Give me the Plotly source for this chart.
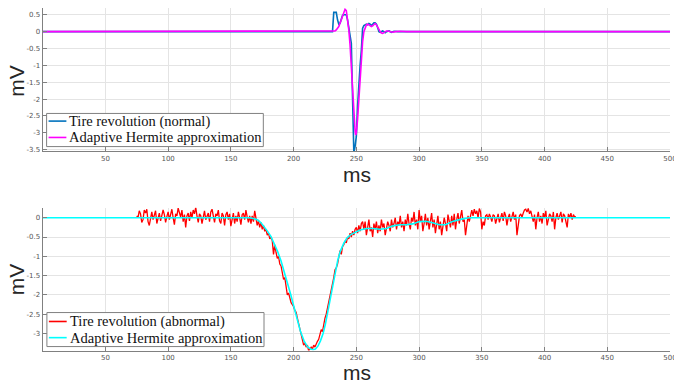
import numpy as np
import plotly.graph_objects as go

# ---------------- data ----------------
# top panel: normal tire revolution (ms, mV)
normal_x = [0, 230, 231, 232, 234, 235, 236, 237, 238, 239, 240, 242, 243, 244, 245, 246, 247, 248,
            249, 250, 251, 252, 253, 254, 255, 256, 257, 258, 259, 260, 261, 262, 263, 264, 265, 266,
            267, 268, 269, 270, 271, 272, 273, 274, 276, 278, 280, 283, 500]
normal_y = [0, 0, 0.0, 0.57, 0.57, 0.35, 0.22, 0.25, 0.35, 0.48, 0.5, 0.5, 0.35, 0.1, -0.15, -0.35, -2.0, -3.6,
            -3.4, -3.1, -2.2, -1.4, -1.0, -0.55, 0.1, 0.18, 0.2, 0.22, 0.2, 0.24, 0.22, 0.18, 0.22, 0.26, 0.26, 0.22,
            0.12, 0.0, -0.02, 0.0, 0.02, 0.0, -0.03, 0.0, 0.02, -0.02, 0.01, 0.0, 0]

approx1_x = [0, 231, 232, 233, 234, 235, 236, 237, 238, 239, 240, 241, 242, 243, 244, 245, 246, 247, 248,
             249, 249.5, 250, 251, 252, 253, 254, 255, 256, 257, 258, 259, 260, 261, 262, 263, 264, 265,
             266, 267, 268, 269, 270, 271, 272, 273, 274, 275, 277, 279, 281, 285, 290, 500]
approx1_y = [0, 0, 0.0, 0.02, 0.05, 0.1, 0.15, 0.25, 0.35, 0.48, 0.6, 0.66, 0.62, 0.4, 0.05, -0.4, -1.1, -1.8, -2.5,
             -2.95, -3.07, -3.0, -2.6, -2.0, -1.35, -0.75, -0.3, 0.0, 0.12, 0.2, 0.22, 0.2, 0.18, 0.15, 0.17, 0.22, 0.24,
             0.2, 0.12, 0.05, 0.0, -0.04, -0.05, -0.03, 0.0, 0.02, 0.02, 0.0, -0.02, 0.0, 0.01, 0, 0]

# bottom panel: abnormal tire revolution, one sample per ms starting at 75 ms
abnormal_start = 75
abnormal_y = [
    0.05, 0.0, 0.18, 0.1, -0.12, -0.05, 0.2, 0.12, 0.22, -0.1,
    -0.2, 0.05, 0.15, -0.05, 0.1, 0.18, -0.15, 0.0, 0.12, -0.08,
    0.05, 0.2, 0.08, -0.12, 0.03, 0.15, -0.05, 0.1, 0.22, 0.0,
    -0.18, 0.1, 0.05, 0.25, 0.15, 0.02, 0.2, -0.1, 0.08, -0.25,
    0.05, 0.12, -0.08, 0.15, 0.0, 0.2, 0.1, 0.27, 0.05, -0.12,
    0.1, 0.05, -0.15, 0.08, 0.18, -0.05, 0.02, 0.12, -0.1, 0.15,
    0.22, 0.0, -0.12, 0.1, 0.05, 0.2, -0.08, -0.15, 0.12, 0.05,
    -0.2, 0.08, 0.15, -0.05, 0.1, -0.22, 0.02, 0.12, -0.15, 0.05,
    -0.1, 0.15, 0.0, -0.18, 0.08, 0.12, -0.05, 0.2, 0.02, -0.12, 0.05,
    -0.15, 0.05, -0.1, 0.18, -0.05, -0.2, -0.08, -0.25, -0.12, -0.3,
    -0.2, -0.35, -0.3, -0.45, -0.4, -0.55, -0.5, -0.6, -0.95, -0.7,
    -0.9, -1.05, -1.0, -1.2, -1.25, -1.45, -1.6, -1.55, -1.85, -2.0,
    -1.95, -2.1, -2.2, -2.25, -2.3, -2.4, -2.45, -2.6, -2.75, -2.85,
    -3.05, -3.2, -3.3, -3.25, -3.35, -3.3, -3.45, -3.4, -3.35, -3.4,
    -3.3, -3.35, -3.25, -3.2, -3.15, -3.05, -2.9, -2.95, -2.75, -2.6,
    -2.5, -2.35, -2.2, -2.05, -1.85, -1.7, -1.55, -1.35, -1.3, -1.2,
    -1.0, -0.85, -0.95, -0.75, -0.7, -0.6, -0.65, -0.5, -0.55, -0.4,
    -0.5, -0.35, -0.45, -0.3, -0.25, -0.4, -0.2, -0.35, -0.15, -0.1,
    -0.3, -0.1, -0.45, -0.2, -0.05, -0.35, -0.25, -0.5, -0.15, -0.3,
    -0.1, -0.4, -0.2, -0.35, -0.05, -0.25, -0.15, -0.45, -0.3, -0.1,
    -0.2, -0.35, -0.05, -0.25, -0.15, 0.0, -0.3, -0.1, -0.2, 0.05,
    -0.25, -0.1, -0.35, -0.05, -0.2, 0.1, -0.15, -0.3, 0.0, -0.1,
    0.15, -0.2, -0.05, -0.3, 0.2, -0.1, 0.05, -0.35, -0.15, 0.1,
    -0.2, 0.0, -0.3, -0.1, 0.12, -0.25, -0.05, -0.4, -0.15, 0.05,
    -0.3, -0.1, -0.45, -0.2, 0.0, -0.15, -0.35, 0.08, -0.1, -0.25,
    0.05, -0.2, 0.1, -0.3, -0.05, 0.12, -0.15, 0.0, 0.2, -0.1,
    -0.05, -0.45, -0.15, 0.05, -0.1, 0.1, 0.2, 0.05, 0.22, 0.1,
    0.18, 0.0, 0.24, 0.15, -0.3, -0.1, -0.2, 0.05, 0.08, -0.05,
    0.1, 0.02, -0.1, 0.08, 0.05, -0.15, -0.05, 0.1, -0.12, 0.0,
    0.12, -0.08, 0.15, 0.05, -0.2, 0.0, 0.1, -0.1, 0.05, 0.15,
    -0.05, 0.08, -0.45, -0.2, 0.05, 0.1, 0.02, 0.12, 0.2, 0.22,
    0.15, 0.24, 0.1, 0.18, 0.05, -0.1, 0.08, -0.3, 0.0, 0.15,
    -0.1, 0.05, -0.15, 0.12, 0.0, 0.18, -0.2, -0.05, 0.1, 0.05,
    -0.1, 0.15, -0.3, 0.0, 0.12, -0.05, 0.08, 0.15, -0.12, 0.1,
    0.05, -0.15, -0.25, 0.1, 0.0, 0.12, -0.05, 0.08, 0.02, 0.03,
]
abnormal_x = list(np.arange(abnormal_start, abnormal_start + len(abnormal_y)))

approx2_x = [0, 165, 168, 171.5, 174, 176.7, 179, 182, 184.5, 187.2, 190, 192.5, 195, 197.7, 200.5, 203,
             205.5, 208.3, 211, 213.5, 215.5, 217.4, 219.5, 221.4, 223.5, 225.3, 227.3, 229.3, 231.3,
             233.2, 235.2, 237.2, 240, 242.4, 245, 247.7, 252.9, 258.2, 263.5, 268.7, 274, 279.3, 284.5,
             289.8, 295, 300.2, 305.5, 310.8, 316, 321, 326.6, 334.5, 340, 500]
approx2_y = [0, 0, -0.02, -0.06, -0.13, -0.23, -0.34, -0.49, -0.66, -0.87, -1.12, -1.39, -1.68, -1.99, -2.34, -2.67,
             -2.95, -3.19, -3.34, -3.40, -3.42, -3.40, -3.32, -3.19, -3.0, -2.76, -2.43, -2.07, -1.72,
             -1.39, -1.1, -0.87, -0.66, -0.53, -0.45, -0.40, -0.32, -0.28, -0.28, -0.3, -0.28, -0.21, -0.18,
             -0.18, -0.16, -0.10, -0.09, -0.13, -0.18, -0.18, -0.1, -0.03, 0, 0]

x_ticks = [50, 100, 150, 200, 250, 300, 350, 400, 450, 500]
y1_ticks = [0.5, 0, -0.5, -1, -1.5, -2, -2.5, -3, -3.5]
y1_labels = ["0.5", "0", "-0.5", "-1", "-1.5", "-2", "-2.5", "-3", "-3.5"]
y2_ticks = [0, -0.5, -1, -1.5, -2, -2.5, -3]
y2_labels = ["0", "-0.5", "-1", "-1.5", "-2", "-2.5", "-3"]

top_names = ["Tire revolution (normal)", "Adaptive Hermite approximation"]
bottom_names = ["Tire revolution (abnormal)", "Adaptive Hermite approximation"]
top_colors = ["#0072BD", "#FF00FF"]
bottom_colors = ["#FF0000", "#00FFFF"]

# ---------------- figure ----------------
# The page body keeps its default 8 px margin, so the figure is laid out 8 px
# smaller; positions below are given in window pixels and converted.
OFF = 8
WIN_W, WIN_H = 682, 384
W, H = WIN_W - OFF, WIN_H - OFF


def px(x):
    return (x - OFF) / W


def py(y):
    return 1 - (y - OFF) / H


fig = go.Figure()

fig.add_trace(go.Scatter(x=normal_x, y=normal_y, mode="lines", name=top_names[0],
                         line=dict(color=top_colors[0], width=1.6), xaxis="x", yaxis="y"))
fig.add_trace(go.Scatter(x=approx1_x, y=approx1_y, mode="lines", name=top_names[1],
                         line=dict(color=top_colors[1], width=1.6), xaxis="x", yaxis="y"))
fig.add_trace(go.Scatter(x=abnormal_x, y=abnormal_y, mode="lines", name=bottom_names[0],
                         line=dict(color=bottom_colors[0], width=1.3), xaxis="x2", yaxis="y2"))
fig.add_trace(go.Scatter(x=approx2_x, y=approx2_y, mode="lines", name=bottom_names[1],
                         line=dict(color=bottom_colors[1], width=1.6), xaxis="x2", yaxis="y2"))

xdom = [px(43), px(677)]
ax_common = dict(showline=True, linecolor="#808080", linewidth=1, ticks="inside", ticklen=4,
                 tickcolor="#808080", showgrid=True, gridcolor="#e4e4e4", gridwidth=1, zeroline=False,
                 tickfont=dict(family="DejaVu Sans", size=7, color="#555555"), mirror=False,
                 ticklabeloverflow="allow")

fig.update_layout(
    width=W, height=H, autosize=False,
    margin=dict(l=0, r=0, t=0, b=0),
    paper_bgcolor="white", plot_bgcolor="white",
    showlegend=False,
    xaxis=dict(domain=xdom, range=[0, 500], tickvals=x_ticks, anchor="y", **ax_common),
    yaxis=dict(domain=[py(152.5), py(8)], range=[-3.55, 0.7], tickvals=y1_ticks, ticktext=y1_labels,
               anchor="x", **ax_common),
    xaxis2=dict(domain=xdom, range=[0, 500], tickvals=x_ticks, anchor="y2", **ax_common),
    yaxis2=dict(domain=[py(353.3), py(209.3)], range=[-3.44, 0.26], tickvals=y2_ticks,
                ticktext=y2_labels, anchor="x2", **ax_common),
)

# axis titles
title_font = dict(family="Liberation Sans", size=21, color="#262626")
for (xx, yy, txt, ang) in [(361, 175.5, "ms", 0), (361, 375.5, "ms", 0),
                           (16.5, 81, "mV", -90), (16.5, 281, "mV", -90)]:
    fig.add_annotation(x=px(xx), y=py(yy), xref="paper", yref="paper", text=txt, showarrow=False,
                       textangle=ang, font=title_font, xanchor="center", yanchor="middle")

# legends (boxed, serif text, short line samples)
leg_font = dict(family="Liberation Serif", size=14.5, color="#111111")
for (box, rows, names, colors) in [((47, 114.3, 266, 147.7), (122.0, 138.5), top_names, top_colors),
                                   ((47.3, 315, 266.7, 349.3), (324.0, 340.3), bottom_names, bottom_colors)]:
    x0, y0, x1, y1 = box
    fig.add_shape(type="rect", xref="paper", yref="paper", x0=px(x0), x1=px(x1), y0=py(y1), y1=py(y0),
                  line=dict(color="#808080", width=1), fillcolor="white", layer="above")
    for ry, nm, col in zip(rows, names, colors):
        fig.add_shape(type="line", xref="paper", yref="paper", x0=px(x0 + 2), x1=px(x0 + 20),
                      y0=py(ry), y1=py(ry), line=dict(color=col, width=1.6), layer="above")
        fig.add_annotation(x=px(x0 + 21), y=py(ry), xref="paper", yref="paper", text=nm,
                           showarrow=False, font=leg_font, xanchor="left", yanchor="middle")

fig.write_html("out.html", config={"displayModeBar": False, "responsive": False})
